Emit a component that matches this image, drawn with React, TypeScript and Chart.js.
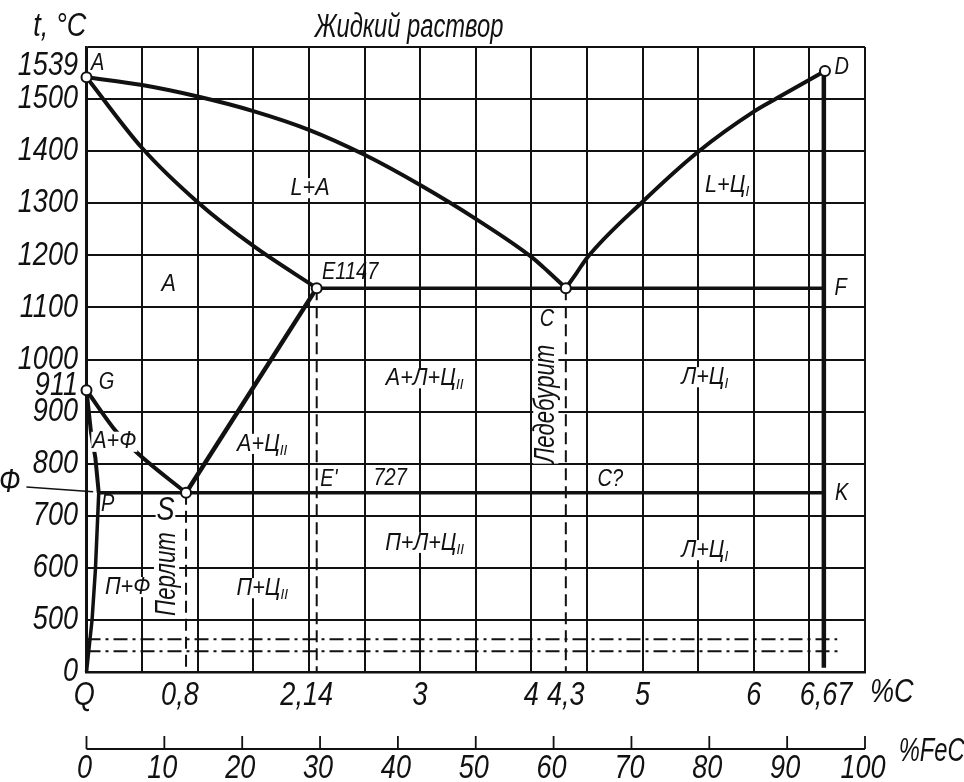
import React, { useEffect, useRef } from "react";
import { Chart, registerables } from "chart.js";

Chart.register(...registerables);

// x is %C on the drawn grid, y is degrees on the drawn grid (bottom of the grid is labelled 0, the axis is broken there)
const keyPoints = [[0, 1542], [2.07, 1137], [4.31, 1137], [6.64, 1554], [0, 941], [0.895, 744]];
const lineAC = [[0, 1542], [0.5, 1527], [1, 1505], [1.5, 1477], [2, 1441], [2.5, 1393], [3, 1335], [3.5, 1270], [4, 1197], [4.15, 1169], [4.31, 1137]];
const lineAE = [[0, 1542], [0.5, 1406], [1, 1302], [1.5, 1218], [2.07, 1137]];
const lineCD = [[4.31, 1137], [4.4, 1164], [4.5, 1195], [5, 1303], [5.5, 1399], [6, 1476], [6.21, 1502], [6.64, 1554]];
const lineES = [[0.895, 744], [2.07, 1137]];
const lineEF = [[2.07, 1137], [6.63, 1137]];
const linePK = [[0.11, 744], [6.63, 744]];
const lineDK = [[6.63, 1554], [6.63, 408]];
const lineGS = [[0, 941], [0.27, 861], [0.46, 820], [0.895, 744]];
const lineGP = [[0, 941], [0.04, 861], [0.08, 811], [0.11, 744]];
const linePQ = [[0.11, 744], [0.08, 596], [0.05, 500], [0, 400]];
const leaderF = [[-0.54, 755], [0.06, 746]];
const dashedS = [[0.895, 744], [0.895, 400]];
const dashedE = [[2.07, 1137], [2.07, 400]];
const dashedC = [[4.31, 1137], [4.31, 400]];
const dashDotUpper = [[0, 463], [6.75, 463]];
const dashDotLower = [[0, 440], [6.78, 440]];

const xTickValues = [-0.02, 0.84, 1.98, 3, 4, 4.31, 5, 6, 6.65];
const xTickLabels = ["Q", "0,8", "2,14", "3", "4", "4,3", "5", "6", "6,67"];
const yTickValues = [400, 500, 600, 700, 800, 900, 949, 1000, 1100, 1200, 1300, 1400, 1500, 1563];
const yTickLabels = ["0", "500", "600", "700", "800", "900", "911", "1000", "1100", "1200", "1300", "1400", "1500", "1539"];

// [text, subscript, x, y]
const phaseLabels: [string, string, number, number][] = [
  ["L+A", "", 2.01, 1329],
  ["А", "", 0.74, 1145],
  ["А+Л+Ц", "II", 3.04, 964],
  ["П+Л+Ц", "II", 3.04, 648],
  ["L+Ц", "I", 5.76, 1335],
  ["Л+Ц", "I", 5.56, 966],
  ["Л+Ц", "I", 5.56, 634],
  ["А+Ф", "", 0.25, 842],
  ["А+Ц", "II", 1.58, 838],
  ["П+Ф", "", 0.37, 563],
  ["П+Ц", "II", 1.58, 561],
];
const pointLabels: [string, number, number][] = [
  ["A", 0.1, 1569],
  ["D", 6.79, 1560],
  ["G", 0.18, 955],
  ["E1147", 2.37, 1166],
  ["F", 6.78, 1137],
  ["C", 4.14, 1076],
  ["E'", 2.18, 769],
  ["727", 2.73, 772],
  ["C?", 4.71, 769],
  ["K", 6.79, 742],
  ["P", 0.19, 721],
];
const largeLabels: [string, number, number][] = [
  ["S", 0.71, 709],
  ["t, °C", -0.24, 1638],
  ["%C", 7.24, 360],
  ["Ф", -0.69, 763],
];
const tightLabels: [string, number, number][] = [
  ["Жидкий раствор", 2.9, 1636],
  ["%FeC", 7.6, 246],
];
const verticalLabels: [string, number, number][] = [
  ["Перлит", 0.72, 588],
  ["Ледебурит", 4.13, 915],
];

const INK = "#111";
const FAMILY = '"Liberation Sans", sans-serif';
const TICK_SIZE = 33;
const TICK_SQUEEZE = 0.82;

const toPoints = (pairs: number[][]) => pairs.map(([x, y]) => ({ x, y }));

const line = (pairs: number[][], borderWidth: number, extra: object = {}) => ({
  data: toPoints(pairs),
  borderColor: INK,
  borderWidth,
  pointRadius: 0,
  showLine: true,
  fill: false,
  clip: false as const,
  ...extra,
});

// no condensed face is installed, so all text goes through here and is squeezed horizontally
const drawText = (
  ctx: CanvasRenderingContext2D,
  text: string,
  sub: string,
  cx: number,
  cy: number,
  size: number,
  squeeze: number,
  angle = 0,
  halo = false,
) => {
  const main = `italic ${size}px ${FAMILY}`;
  const small = `italic ${Math.round(size * 0.62)}px ${FAMILY}`;
  ctx.font = main;
  const w1 = ctx.measureText(text).width;
  ctx.font = small;
  const w2 = sub ? ctx.measureText(sub).width : 0;
  const w = w1 + w2;
  ctx.save();
  ctx.translate(cx, cy);
  ctx.rotate(angle);
  ctx.scale(squeeze, 1);
  if (halo) {
    ctx.fillStyle = "#fff";
    ctx.fillRect(-w / 2 - 1, -size * 0.42, w + 2, size * 0.84);
  }
  ctx.fillStyle = INK;
  ctx.font = main;
  ctx.fillText(text, -w / 2, 0);
  if (sub) {
    ctx.font = small;
    ctx.fillText(sub, -w / 2 + w1, size * 0.28);
  }
  ctx.restore();
};

const labelsPlugin = {
  id: "labels",
  afterDatasetsDraw(chart: Chart) {
    const { ctx, scales } = chart;
    const px = (v: number) => scales.x.getPixelForValue(v);
    const py = (v: number) => scales.y.getPixelForValue(v);
    ctx.save();
    ctx.textBaseline = "middle";
    ctx.textAlign = "left";
    phaseLabels.forEach(([t, s, x, y]) => drawText(ctx, t, s, px(x), py(y), 24, 0.9, 0, true));
    pointLabels.forEach(([t, x, y]) => drawText(ctx, t, "", px(x), py(y), 23, 0.87));
    largeLabels.forEach(([t, x, y]) => drawText(ctx, t, "", px(x), py(y), 33, 0.82, 0, t === "S"));
    tightLabels.forEach(([t, x, y]) => drawText(ctx, t, "", px(x), py(y), 33, 0.72));
    verticalLabels.forEach(([t, x, y]) => drawText(ctx, t, "", px(x), py(y), 30, 0.74, -Math.PI / 2, true));
    ctx.restore();
  },
};

// tick texts are taken from the axes; the %FeC ruler has its ticks pointing up, which a bottom axis can't do by itself
const axisTextPlugin = {
  id: "axisText",
  afterDraw(chart: Chart) {
    const { ctx } = chart;
    const { xLabel, xFe, yLabel } = chart.scales;
    const base = xFe.top + 13;
    ctx.save();
    ctx.strokeStyle = INK;
    ctx.lineWidth = 1.8;
    ctx.beginPath();
    ctx.moveTo(xFe.getPixelForValue(0), base);
    ctx.lineTo(xFe.getPixelForValue(100), base);
    xFe.ticks.forEach((t) => {
      const x = xFe.getPixelForValue(t.value);
      ctx.moveTo(x, base);
      ctx.lineTo(x, xFe.top);
    });
    ctx.stroke();

    ctx.textBaseline = "middle";
    ctx.textAlign = "left";
    xFe.ticks.forEach((t) => {
      drawText(ctx, String(t.label), "", xFe.getPixelForValue(t.value) - 2, xFe.top + 33, TICK_SIZE, TICK_SQUEEZE);
    });
    xLabel.ticks.forEach((t) => {
      drawText(ctx, String(t.label), "", xLabel.getPixelForValue(t.value), xLabel.top + 23, TICK_SIZE, TICK_SQUEEZE);
    });
    yLabel.ticks.forEach((t) => {
      ctx.font = `italic ${TICK_SIZE}px ${FAMILY}`;
      const half = (ctx.measureText(String(t.label)).width * TICK_SQUEEZE) / 2;
      drawText(ctx, String(t.label), "", 78 - half, yLabel.getPixelForValue(t.value), TICK_SIZE, TICK_SQUEEZE);
    });
    ctx.restore();
  },
};

export default function App() {
  const canvasRef = useRef<HTMLCanvasElement>(null);

  useEffect(() => {
    if (!canvasRef.current) return;
    const chart = new Chart(canvasRef.current, {
      type: "scatter",
      data: {
        datasets: [
          {
            data: toPoints(keyPoints),
            pointRadius: 5,
            pointBackgroundColor: "#fff",
            pointBorderColor: INK,
            pointBorderWidth: 2,
            showLine: false,
            clip: false as const,
          },
          line(lineAC, 4, { cubicInterpolationMode: "monotone" }),
          line(lineAE, 4, { cubicInterpolationMode: "monotone" }),
          line(lineCD, 4, { cubicInterpolationMode: "monotone" }),
          line(lineES, 4.5),
          line(lineEF, 3.5),
          line(linePK, 3.5),
          line(lineDK, 4.5),
          line(lineGS, 4, { cubicInterpolationMode: "monotone" }),
          line(lineGP, 4),
          line(linePQ, 3.5),
          line(leaderF, 1.5),
          line(dashedS, 2, { borderDash: [12, 6] }),
          line(dashedE, 2, { borderDash: [12, 6] }),
          line(dashedC, 2, { borderDash: [12, 6] }),
          line(dashDotUpper, 2, { borderDash: [14, 5, 3, 5] }),
          line(dashDotLower, 2, { borderDash: [14, 5, 3, 5] }),
        ],
      },
      plugins: [labelsPlugin, axisTextPlugin],
      options: {
        responsive: false,
        animation: false,
        devicePixelRatio: 1,
        layout: { padding: { top: 47, right: 99, bottom: 0, left: 0 } },
        plugins: { legend: { display: false }, tooltip: { enabled: false } },
        scales: {
          x: {
            type: "linear",
            position: "bottom",
            weight: 0,
            min: 0,
            max: 7,
            afterFit: (s) => { s.height = 1; },
            grid: { color: INK, lineWidth: 2, drawTicks: false },
            border: { color: INK, width: 2.5 },
            ticks: { display: false, stepSize: 0.5 },
          },
          xLabel: {
            type: "linear",
            position: "bottom",
            weight: 1,
            min: 0,
            max: 7,
            afterFit: (s) => { s.height = 63; },
            afterBuildTicks: (s) => { s.ticks = xTickValues.map((value) => ({ value })); },
            grid: { display: false },
            border: { display: false },
            ticks: { display: false, callback: (_v, i) => xTickLabels[i] },
          },
          xFe: {
            type: "linear",
            position: "bottom",
            weight: 2,
            min: 0,
            max: 100,
            afterFit: (s) => { s.height = 46; },
            grid: { display: false },
            border: { display: false },
            ticks: { display: false, stepSize: 10 },
          },
          y: {
            type: "linear",
            position: "left",
            weight: 0,
            min: 400,
            max: 1600,
            afterFit: (s) => { s.width = 1; },
            grid: { color: INK, lineWidth: 2, drawTicks: false },
            border: { color: INK, width: 2.5 },
            ticks: { display: false, stepSize: 100 },
          },
          yLabel: {
            type: "linear",
            position: "left",
            weight: 1,
            min: 400,
            max: 1600,
            afterFit: (s) => { s.width = 85.5; },
            afterBuildTicks: (s) => { s.ticks = yTickValues.map((value) => ({ value })); },
            grid: { display: false },
            border: { display: false },
            ticks: { display: false, callback: (_v, i) => yTickLabels[i] },
          },
        },
      },
    });
    return () => chart.destroy();
  }, []);

  return (
    <div style={{ position: "absolute", left: 0, top: 0, width: 964, height: 782 }}>
      <canvas ref={canvasRef} width={964} height={782} style={{ display: "block" }} />
    </div>
  );
}
